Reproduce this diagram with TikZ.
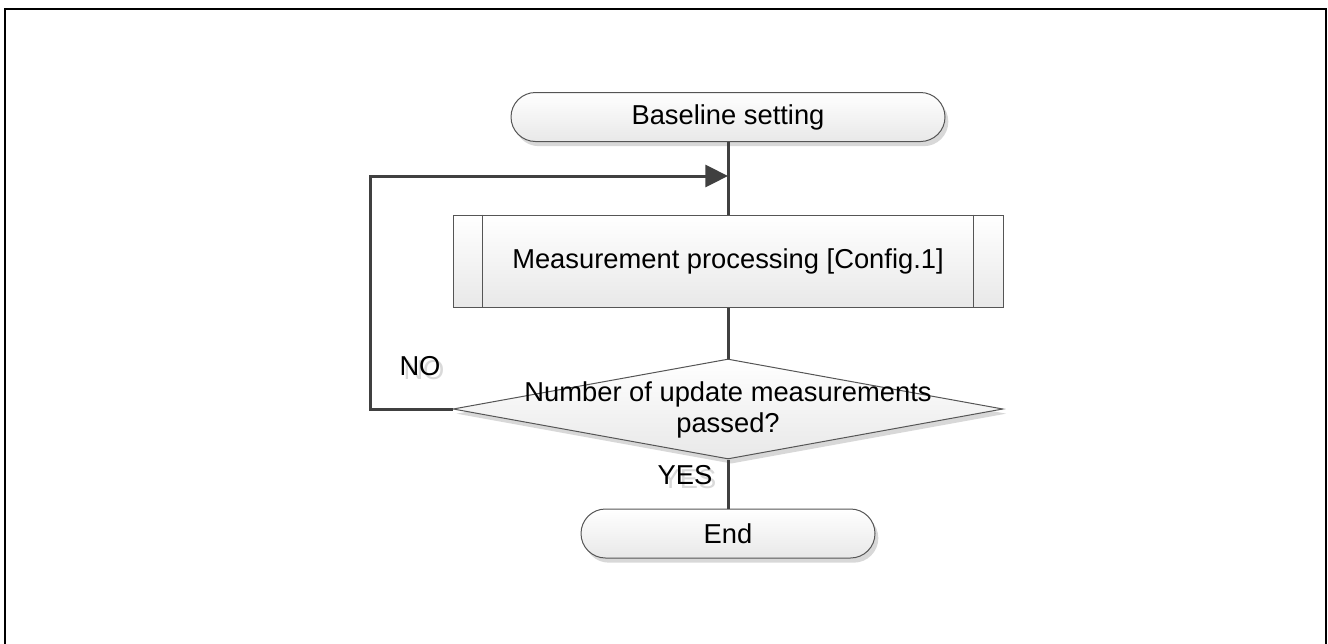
\documentclass[tikz,border=0pt]{standalone}
\usepackage{fontspec}
\setmainfont{Liberation Sans}
\usetikzlibrary{shapes.geometric,shadows,arrows.meta}
\definecolor{linec}{HTML}{404040}
\definecolor{edgec}{HTML}{555555}
\newcommand{\ghosted}[1]{\rlap{\hspace{3pt}\raisebox{-3.5pt}{\textcolor{black!15}{#1}}}#1}
\tikzset{
  txt/.style={font=\fontsize{20.5}{23.25}\selectfont},
  shp/.style={draw=edgec, line width=0.75pt, top color=white, bottom color=black!9, inner sep=0pt, txt},
  shad/.style={drop shadow={shadow xshift=2.5pt, shadow yshift=-3.5pt, fill=black!30}},
  term/.style={shp, shad, rectangle, rounded corners=18.375pt, minimum height=36.75pt},
  procbox/.style={shp, rectangle, minimum width=412.5pt, minimum height=69pt},
  decbox/.style={shp, shad, diamond, minimum width=412.5pt, minimum height=75pt},
  conn/.style={draw=linec, line width=2.25pt},
  lbl/.style={txt, inner sep=0pt, anchor=base},
  frame/.style={draw=black, line width=1.6pt}
}
\begin{document}
\begin{tikzpicture}[x=0.75pt,y=-0.75pt]
\useasboundingbox (0,0) rectangle (1328,643);
\draw[frame] (5,9) rectangle (1326,680);

% shapes
\node[term, minimum width=325.5pt] (base) at (728,117) {Baseline setting};
\node[procbox] (proc) at (728,261) {Measurement processing [Config.1]};
\draw[edgec, line width=0.75pt] ([xshift=22.5pt]proc.north west) -- ([xshift=22.5pt]proc.south west);
\draw[edgec, line width=0.75pt] ([xshift=-22.5pt]proc.north east) -- ([xshift=-22.5pt]proc.south east);
\node[decbox] (dec) at (728,409) {};
\node[term, minimum width=220.5pt] (end) at (728,533.5) {End};

% connectors
\coordinate (join) at (728,176);
\coordinate (loopc) at (370,176);
\draw[conn] (base.south) -- (proc.north);
\draw[conn] (proc.south) -- (dec.north);
\draw[conn] (dec.south) -- (end.north);
\draw[conn, -{Triangle[length=17pt,width=16.5pt]}] (dec.west) -| (loopc) -- (join);

% decision text
\node[txt, align=center, inner sep=0pt] (dectext) at (728,410) {Number of update measurements\\passed?};

% labels
\node[lbl] (no) at (420,375) {\ghosted{NO}};
\node[lbl] (yes) at (685,484) {\ghosted{YES}};
\end{tikzpicture}
\end{document}
